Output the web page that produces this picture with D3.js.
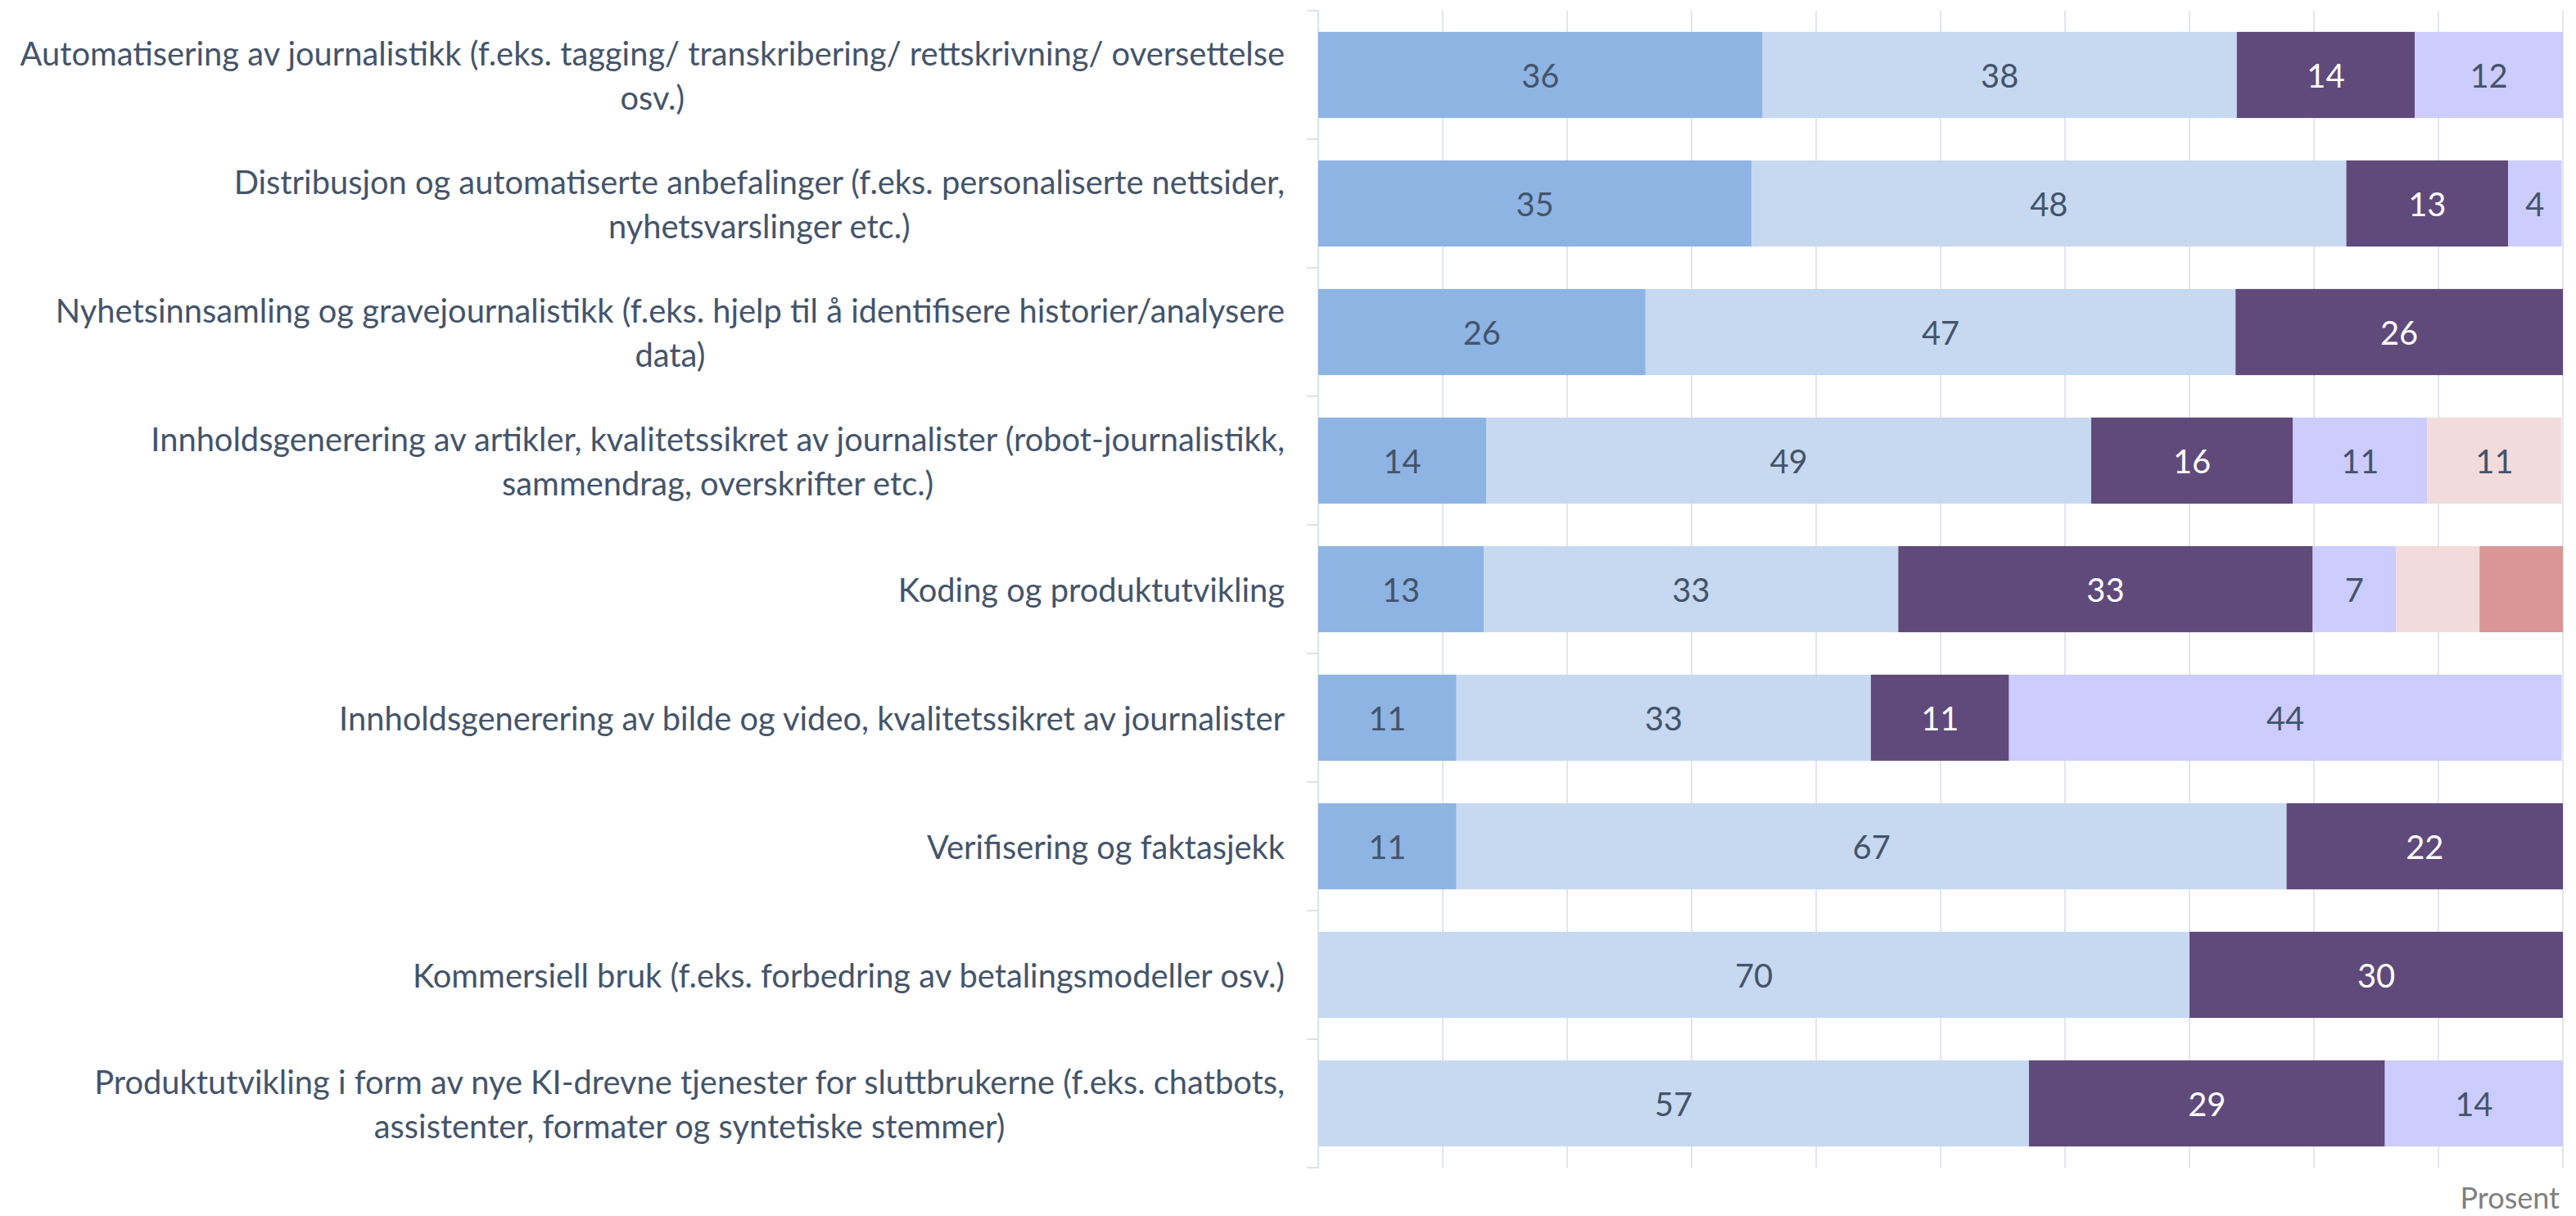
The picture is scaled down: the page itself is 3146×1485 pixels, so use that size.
<!DOCTYPE html>
<html><head><meta charset="utf-8">
<script src="https://cdn.jsdelivr.net/npm/d3@7"></script>
<style>body{margin:0;background:#fff}svg{display:block}</style>
</head><body>
<svg id="chart" width="3146" height="1485"></svg>
<script>
// ---- data ----
const categories = [
  ["Automatisering av journalistikk (f.eks. tagging/ transkribering/ rettskrivning/ oversettelse", "osv.)"],
  ["Distribusjon og automatiserte anbefalinger (f.eks. personaliserte nettsider,", "nyhetsvarslinger etc.)"],
  ["Nyhetsinnsamling og gravejournalistikk (f.eks. hjelp til å identifisere historier/analysere", "data)"],
  ["Innholdsgenerering av artikler, kvalitetssikret av journalister (robot-journalistikk,", "sammendrag, overskrifter etc.)"],
  ["Koding og produktutvikling"],
  ["Innholdsgenerering av bilde og video, kvalitetssikret av journalister"],
  ["Verifisering og faktasjekk"],
  ["Kommersiell bruk (f.eks. forbedring av betalingsmodeller osv.)"],
  ["Produktutvikling i form av nye KI-drevne tjenester for sluttbrukerne (f.eks. chatbots,", "assistenter, formater og syntetiske stemmer)"]
];
const serie1 = [35.7, 34.8, 26.3, 13.5, 13.3, 11.1, 11.1, 0, 0];
const serie2 = [38.1, 47.8, 47.4, 48.6, 33.3, 33.3, 66.7, 70.0, 57.1];
const serie3 = [14.3, 13.0, 26.3, 16.2, 33.3, 11.1, 22.2, 30.0, 28.6];
const serie4 = [11.9, 4.3, 0, 10.8, 6.7, 44.4, 0, 0, 14.3];
const serie5 = [0, 0, 0, 10.8, 6.7, 0, 0, 0, 0];
const serie6 = [0, 0, 0, 0, 6.7, 0, 0, 0, 0];
// segments drawn without a value label: [series index, category index]
const unlabeled = [[4, 4], [5, 4]];
const xTicks = [0, 10, 20, 30, 40, 50, 60, 70, 80, 90, 100];
const axisTitle = "Prosent";

const seriesList = [serie1, serie2, serie3, serie4, serie5, serie6];
const colors = ["#8EB4E3", "#C6D9F1", "#604A7B", "#CCCCFF", "#F2DCDB", "#D99694"];
const labelColors = ["#44546A", "#44546A", "#FFFFFF", "#44546A", "#44546A", "#44546A"];

const FONT = "Lato, 'Open Sans', sans-serif";
const svg = d3.select("#chart");

// fit the font size so the longest label line has the reference width
const probe = svg.append("text").attr("font-family", FONT).attr("font-size", 40).text(categories[0][0]);
const FS = Math.max(34, Math.min(44, 40 * 1545 / probe.node().getComputedTextLength()));
probe.remove();

const x = d3.scaleLinear().domain([0, 100]).range([1610, 3130]);
const y = d3.scaleBand().domain(d3.range(categories.length))
  .range([13, 1426]).paddingInner(0.33).paddingOuter(0.165);

// grid
svg.append("g").selectAll("line").data(xTicks).join("line")
  .attr("x1", d => x(d)).attr("x2", d => x(d))
  .attr("y1", 13).attr("y2", 1426)
  .attr("stroke", "#E1E6EE").attr("stroke-width", 2);

// left axis with ticks between bands
const step = y.step();
const bounds = d3.range(categories.length + 1).map(i => y.range()[0] + i * step);
svg.append("line").attr("x1", x(0)).attr("x2", x(0)).attr("y1", 13).attr("y2", 1426)
  .attr("stroke", "#DCE1EA").attr("stroke-width", 2);
svg.append("g").selectAll("line").data(bounds).join("line")
  .attr("x1", x(0) - 14).attr("x2", x(0)).attr("y1", d => d).attr("y2", d => d)
  .attr("stroke", "#DCE1EA").attr("stroke-width", 2);

// stack
const rows = categories.map((c, i) => {
  const o = {idx: i};
  seriesList.forEach((s, k) => o["s" + k] = s[i]);
  return o;
});
const stack = d3.stack().keys(seriesList.map((s, k) => "s" + k));
const stacked = stack(rows);

const hidden = new Set(unlabeled.map(d => d[0] + "-" + d[1]));

stacked.forEach((layer, k) => {
  const g = svg.append("g");
  g.selectAll("rect").data(layer.filter(d => d[1] - d[0] > 0)).join("rect")
    .attr("x", d => x(d[0])).attr("width", d => x(d[1]) - x(d[0]))
    .attr("y", d => y(d.data.idx)).attr("height", y.bandwidth())
    .attr("fill", colors[k]);
  g.selectAll("text").data(layer.filter(d => d[1] - d[0] > 0 && !hidden.has(k + "-" + d.data.idx)))
    .join("text")
    .attr("x", d => (x(d[0]) + x(d[1])) / 2)
    .attr("y", d => y(d.data.idx) + y.bandwidth() / 2)
    .attr("text-anchor", "middle").attr("dominant-baseline", "central")
    .attr("font-family", FONT).attr("font-size", FS)
    .attr("fill", labelColors[k])
    .text(d => Math.round(d[1] - d[0]));
});

// category labels: block right-aligned, lines centered within block
const labelRight = 1569, lineH = 54;
categories.forEach((lines, i) => {
  const cy = y(i) + y.bandwidth() / 2;
  const t = svg.append("text").attr("font-family", FONT).attr("font-size", FS)
    .attr("fill", "#44546A").attr("text-anchor", "middle");
  const spans = lines.map((ln, j) => t.append("tspan")
    .attr("y", cy + (j - (lines.length - 1) / 2) * lineH)
    .attr("dominant-baseline", "central").text(ln));
  const maxW = d3.max(spans, s => s.node().getComputedTextLength());
  spans.forEach(s => s.attr("x", labelRight - maxW / 2));
});

svg.append("text").attr("x", 3126).attr("y", 1476).attr("text-anchor", "end")
  .attr("font-family", FONT).attr("font-size", 36).attr("fill", "#7F7F7F").text(axisTitle);
</script>
</body></html>
